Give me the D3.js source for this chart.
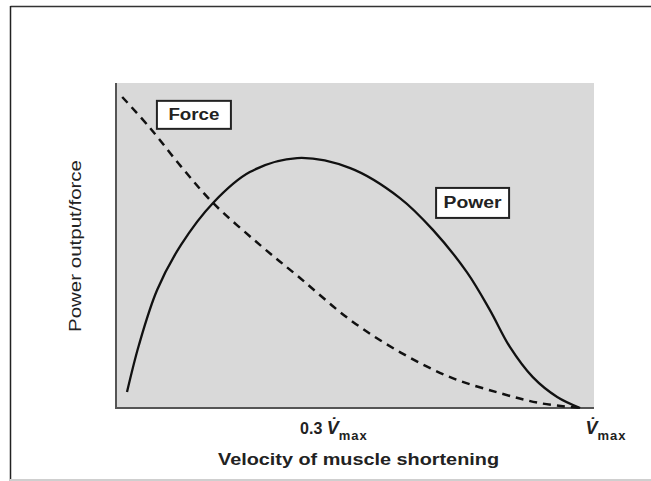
<!DOCTYPE html>
<html><head><meta charset="utf-8">
<script src="https://cdn.jsdelivr.net/npm/d3@7"></script>
<style>
html,body{margin:0;padding:0;background:#fff;}
svg{display:block;}
text{font-family:"Liberation Sans",Arial,Helvetica,sans-serif;fill:#222;}
</style></head>
<body>
<svg id="chart" width="651" height="481"></svg>
<script>
// ---- data (relative units: x = velocity, 0..100 plot width; y = power/force, 0..100) ----
const forceX = [1.3, 7.1, 13.5, 20.3, 30.1, 38.5, 49.0, 59.4, 69.9, 80.3, 88.7, 97.1];
const forceY = [95.7, 86.2, 74.5, 63.1, 50.2, 40.0, 27.1, 17.2, 9.5, 4.6, 1.5, 0.0];
const powerX = [2.3, 4.8, 8.6, 13.6, 20.3, 28.0, 37.9, 49.0, 59.4, 66.3, 73.4, 78.2, 82.4, 87.2, 92.3, 97.1];
const powerY = [4.9, 19.4, 36.3, 50.2, 63.1, 72.6, 76.9, 73.8, 64.6, 54.8, 41.8, 30.2, 18.8, 9.5, 3.4, 0.0];
const tickValues = [45.6, 102.5];
const tickPrefix = ["0.3 ", ""];
const tickSymbol = "V\u0307";
const tickSub = "max";
const seriesLabels = ["Force", "Power"];
const labelPos = [[16.3, 90.2], [74.6, 63.1]];   // centre of label boxes in data units
const xTitle = "Velocity of muscle shortening";
const yTitle = "Power  output/force";

(function () {
const svg = d3.select("#chart");
const pL = 116, pR = 594, pT = 83, pB = 408;
const x = d3.scaleLinear().domain([0, 100]).range([pL, pR]);
const y = d3.scaleLinear().domain([0, 100]).range([pB, pT]);

// outer frame
svg.append("line").attr("x1", 10.5).attr("y1", 6.5).attr("x2", 651).attr("y2", 6.5).attr("stroke", "#333").attr("stroke-width", 1.5);
svg.append("line").attr("x1", 10.5).attr("y1", 6).attr("x2", 10.5).attr("y2", 481).attr("stroke", "#222").attr("stroke-width", 1.5);
svg.append("rect").attr("x", 10).attr("y", 479).attr("width", 641).attr("height", 2).attr("fill", "#cfcfcf");

// plot background
svg.append("rect").attr("x", pL).attr("y", pT).attr("width", pR - pL).attr("height", pB - pT).attr("fill", "#d9d9d9");

// axes
svg.append("line").attr("x1", pL).attr("y1", pT).attr("x2", pL).attr("y2", pB + 1).attr("stroke", "#555").attr("stroke-width", 2);
svg.append("line").attr("x1", pL - 1).attr("y1", pB).attr("x2", pR).attr("y2", pB).attr("stroke", "#555").attr("stroke-width", 2);

const line = d3.line().x(d => x(d[0])).y(d => y(d[1])).curve(d3.curveCatmullRom.alpha(0.5));

svg.append("path").datum(d3.zip(forceX, forceY)).attr("d", line)
  .attr("fill", "none").attr("stroke", "#111").attr("stroke-width", 2.5).attr("stroke-dasharray", "8,6");
svg.append("path").datum(d3.zip(powerX, powerY)).attr("d", line)
  .attr("fill", "none").attr("stroke", "#111").attr("stroke-width", 2.3);

// label boxes
const boxW = [74, 73], boxH = [28, 30], textW = [51, 58];
seriesLabels.forEach((lab, i) => {
  const cx = x(labelPos[i][0]), cy = y(labelPos[i][1]);
  svg.append("rect").attr("x", cx - boxW[i] / 2).attr("y", cy - boxH[i] / 2).attr("width", boxW[i]).attr("height", boxH[i])
    .attr("fill", "#fff").attr("stroke", "#222").attr("stroke-width", 2);
  svg.append("text").attr("x", cx).attr("y", cy).attr("text-anchor", "middle").attr("dominant-baseline", "central")
    .attr("font-size", 16).attr("font-weight", "bold").attr("textLength", textW[i]).attr("lengthAdjust", "spacingAndGlyphs").text(lab);
});

// tick labels
tickValues.forEach((v, i) => {
  const t = svg.append("text").attr("x", x(v)).attr("y", 434).attr("text-anchor", "middle").attr("font-weight", "bold").attr("font-size", 16);
  if (tickPrefix[i]) t.append("tspan").text(tickPrefix[i]);
  t.append("tspan").attr("font-style", "italic").attr("font-size", 18).text(tickSymbol);
  t.append("tspan").attr("font-size", 13).attr("dy", 6).attr("letter-spacing", 1).text(tickSub);
});

// axis titles
svg.append("text").attr("x", (218 + 499) / 2).attr("y", 465).attr("text-anchor", "middle")
  .attr("font-size", 17).attr("font-weight", "bold").attr("textLength", 281).attr("lengthAdjust", "spacingAndGlyphs").text(xTitle);
svg.append("text").attr("transform", `translate(81, ${(160 + 332) / 2}) rotate(-90)`).attr("text-anchor", "middle")
  .attr("font-size", 16).attr("textLength", 172).attr("lengthAdjust", "spacingAndGlyphs").text(yTitle);
})();
</script>
</body></html>
